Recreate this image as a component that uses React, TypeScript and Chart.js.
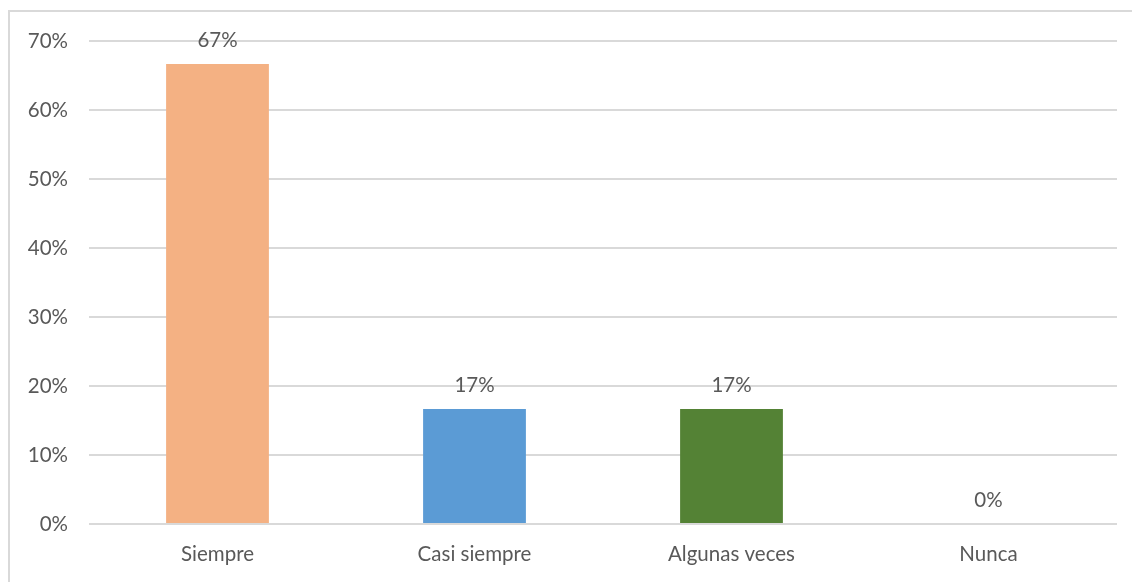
import React, { useEffect, useRef } from "react";
import { Chart, registerables } from "chart.js";

Chart.register(...registerables);

const categories = ["Siempre", "Casi siempre", "Algunas veces", "Nunca"];
const values = [0.6667, 0.1667, 0.1667, 0];
const barColors = ["#F4B183", "#5B9BD5", "#548235", "#A5A5A5"];
const yTicks = [0, 0.1, 0.2, 0.3, 0.4, 0.5, 0.6, 0.7];

const FONT = "Lato, 'Open Sans', sans-serif";
const TEXT = "#595959";
const SIZE = 20.5;

const labelPlugin = {
  id: "barLabels",
  afterDatasetsDraw(chart: any) {
    const ctx = chart.ctx;
    const meta = chart.getDatasetMeta(0);
    ctx.save();
    ctx.font = `${SIZE}px ${FONT}`;
    ctx.fillStyle = TEXT;
    ctx.textAlign = "center";
    ctx.textBaseline = "middle";
    meta.data.forEach((bar: any, i: number) => {
      const v = values[i];
      ctx.fillText(`${Math.round(v * 100)}%`, bar.x, bar.y - 24);
    });
    ctx.restore();
  },
};

export default function App() {
  const ref = useRef<HTMLCanvasElement>(null);
  useEffect(() => {
    if (!ref.current) return;
    const chart = new Chart(ref.current, {
      type: "bar",
      data: {
        labels: categories,
        datasets: [
          {
            data: values,
            backgroundColor: barColors,
            categoryPercentage: 0.8,
            barPercentage: 0.5,
          },
        ],
      },
      options: {
        animation: false,
        responsive: false,
        maintainAspectRatio: false,
        layout: { padding: { top: 41, right: 15, bottom: 0, left: 0 } },
        plugins: { legend: { display: false }, tooltip: { enabled: false } },
        scales: {
          x: {
            grid: { display: false, drawTicks: false },
            border: { display: false },
            ticks: {
              color: TEXT,
              font: { family: FONT, size: SIZE },
              padding: 18,
            },
            afterFit(scale: any) {
              scale.height = 58;
            },
          },
          y: {
            min: 0,
            max: 0.7,
            afterBuildTicks(scale: any) {
              scale.ticks = yTicks.map((v) => ({ value: v }));
            },
            grid: { color: "#D9D9D9", lineWidth: 2, drawTicks: false },
            border: { display: false },
            ticks: {
              color: TEXT,
              font: { family: FONT, size: SIZE },
              padding: 21,
              callback: (v: any) => `${Math.round(Number(v) * 100)}%`,
            },
            afterFit(scale: any) {
              scale.width = 89;
            },
          },
        },
      },
      plugins: [labelPlugin],
    });
    return () => chart.destroy();
  }, []);

  return (
    <div
      style={{
        position: "absolute",
        left: 0,
        top: 0,
        width: 1132,
        height: 582,
        background: "#fff",
        overflow: "hidden",
      }}
    >
      <div
        style={{
          position: "absolute",
          left: 8,
          top: 10,
          right: 0,
          bottom: 0,
          borderTop: "2px solid #D9D9D9",
          borderLeft: "2px solid #D9D9D9",
        }}
      />
      <canvas
        ref={ref}
        width={1132}
        height={582}
        style={{ position: "absolute", left: 0, top: 0 }}
      />
    </div>
  );
}
